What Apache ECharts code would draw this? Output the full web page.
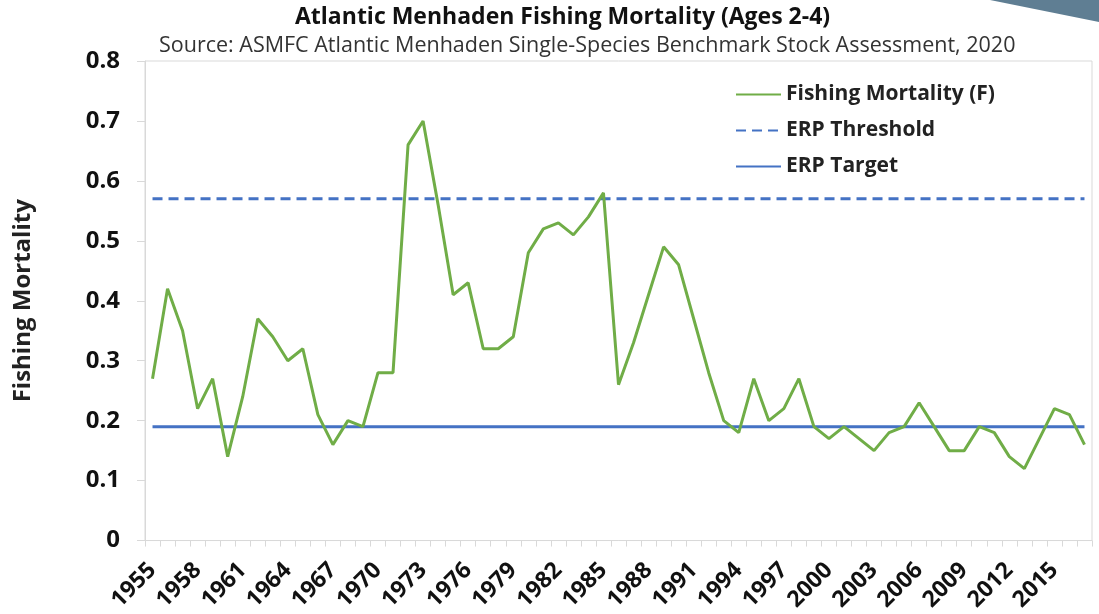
<!DOCTYPE html>
<html>
<head>
<meta charset="utf-8">
<script src="https://cdn.jsdelivr.net/npm/echarts@6/dist/echarts.min.js"></script>
<style>
    html,body{margin:0;padding:0;background:#fff;}
    #chart{width:1099px;height:614px;}
</style>
</head>
<body>
<div id="chart"></div>
<script>
// years 1955 - 2017
let years = []
for(let y = 1955; y <= 2017; y++){
    years.push(String(y))
}
// fishing mortality (F), ages 2-4
let fishing_f = [
    0.27, 0.42, 0.35, 0.22, 0.27, 0.14, 0.24, 0.37, 0.34, 0.30,
    0.32, 0.21, 0.16, 0.20, 0.19, 0.28, 0.28, 0.66, 0.70, 0.56,
    0.41, 0.43, 0.32, 0.32, 0.34, 0.48, 0.52, 0.53, 0.51, 0.54,
    0.58, 0.26, 0.33, 0.41, 0.49, 0.46, 0.37, 0.28, 0.20, 0.18,
    0.27, 0.20, 0.22, 0.27, 0.19, 0.17, 0.19, 0.17, 0.15, 0.18,
    0.19, 0.23, 0.19, 0.15, 0.15, 0.19, 0.18, 0.14, 0.12, 0.17,
    0.22, 0.21, 0.16
]
let erp_threshold = 0.57
let erp_target = 0.19
let y_ticks = ['0', '0.1', '0.2', '0.3', '0.4', '0.5', '0.6', '0.7', '0.8']

let font = '"Open Sans", "Noto Sans", sans-serif'
let green = '#70ad47'
let blue = '#4472c4'

var mychart = echarts.init(document.getElementById('chart'), null, {renderer:'canvas'})

mychart.setOption({
    animation: false,
    textStyle: {fontFamily: font},
    title: [
        {
            text: 'Atlantic Menhaden Fishing Mortality (Ages 2-4)',
            left: 295,
            top: 6,
            padding: 0,
            textStyle: {fontSize: 23, fontWeight: 'bold', color: '#111', fontFamily: font}
        },
        {
            text: 'Source: ASMFC Atlantic Menhaden Single-Species Benchmark Stock Assessment, 2020',
            left: 159,
            top: 35,
            padding: 0,
            textStyle: {fontSize: 21.5, fontWeight: 'normal', color: '#333', fontFamily: font}
        }
    ],
    // corner decoration
    graphic: [
        {
            type: 'polygon',
            shape: {points: [[990, 0], [1099, 0], [1099, 22]]},
            style: {fill: '#5f7e93'}
        }
    ],
    legend: {
        orient: 'vertical',
        left: 735,
        top: 84,
        padding: 0,
        itemWidth: 45,
        itemHeight: 14,
        itemGap: 15,
        itemStyle: {opacity: 0},
        textStyle: {fontSize: 21, fontWeight: 'bold', color: '#222', fontFamily: font},
        data: ['Fishing Mortality (F)', 'ERP Threshold', 'ERP Target']
    },
    grid: {
        left: 145,
        right: 7,
        top: 61,
        bottom: 73,
        show: true,
        borderColor: '#d9d9d9',
        borderWidth: 1
    },
    xAxis: {
        type: 'category',
        boundaryGap: true,
        data: years,
        axisLine: {lineStyle: {color: '#d9d9d9', width: 1}},
        axisTick: {show: true, interval: 0, length: 6, lineStyle: {color: '#d9d9d9'}},
        axisLabel: {
            interval: 2,
            rotate: 45,
            fontSize: 23,
            fontWeight: 'bold',
            color: '#111',
            margin: 26
        }
    },
    yAxis: {
        type: 'value',
        min: 0,
        max: 0.8,
        interval: 0.1,
        name: 'Fishing Mortality',
        nameLocation: 'middle',
        nameGap: 110,
        nameTextStyle: {fontSize: 24, fontWeight: 'bold', color: '#222', fontFamily: font},
        splitLine: {show: false},
        axisLine: {show: true, lineStyle: {color: '#d9d9d9'}},
        axisTick: {show: true, length: 8, lineStyle: {color: '#d9d9d9'}},
        axisLabel: {
            fontSize: 24,
            fontWeight: 'bold',
            color: '#111',
            margin: 25,
            formatter: function(v){
                let i = Math.round(v * 10)
                return y_ticks[i]
            }
        }
    },
    series: [
        {
            name: 'Fishing Mortality (F)',
            type: 'line',
            data: fishing_f,
            symbol: 'none',
            lineStyle: {color: green, width: 3},
            itemStyle: {color: green},
            z: 3
        },
        {
            name: 'ERP Threshold',
            type: 'line',
            data: years.map(() => erp_threshold),
            symbol: 'none',
            lineStyle: {color: blue, width: 3, type: [10, 6]},
            itemStyle: {color: blue},
            z: 2
        },
        {
            name: 'ERP Target',
            type: 'line',
            data: years.map(() => erp_target),
            symbol: 'none',
            lineStyle: {color: blue, width: 3},
            itemStyle: {color: blue},
            z: 2
        }
    ]
})
</script>
</body>
</html>
